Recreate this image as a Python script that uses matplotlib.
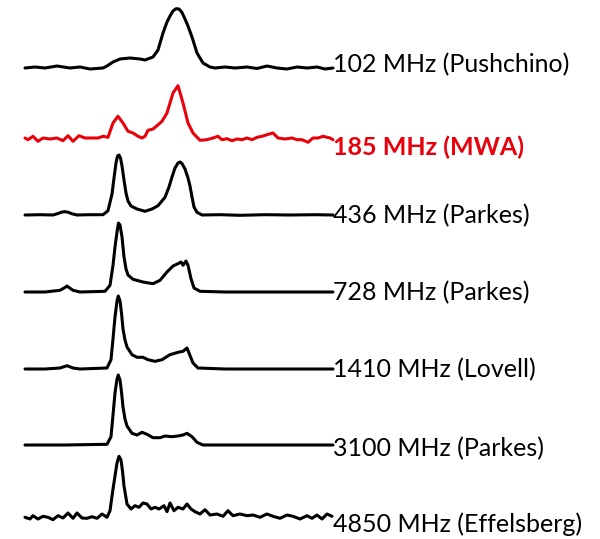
import matplotlib.pyplot as plt

# pulse profiles: phase bin -> height above baseline
freqs = ["102 MHz (Pushchino)", "185 MHz (MWA)", "436 MHz (Parkes)", "728 MHz (Parkes)",
         "1410 MHz (Lovell)", "3100 MHz (Parkes)", "4850 MHz (Effelsberg)"]

ph_102 = [0, 10, 20, 32, 45, 55, 65, 78, 82, 88, 95, 105, 115, 120, 128, 133, 138, 142, 145,
          148, 151, 154, 157, 160, 163, 167, 172, 178, 185, 190, 200, 210, 222, 232, 242, 252,
          262, 272, 282, 292, 300, 308]
amp_102 = [0, 1, 0, 2, 0, 1, -1, 0, 2, 6, 9, 10, 9, 8, 11, 18, 35, 46, 52,
           57, 59.3, 59, 55.5, 49, 42, 31, 15, 5, 1, 0, 1, 0, 1, -0.5, 2, 0,
           -1, 1, 0, 1, -1, 0]

ph_185 = [0, 3, 8, 13, 18, 25, 32, 38, 43, 48, 54, 60, 67, 73, 78, 83, 88, 93, 98, 103, 108,
          113, 117, 120, 123, 128, 132, 137, 142, 145, 148, 153, 158, 163, 168, 175, 182, 188,
          193, 197, 202, 207, 212, 217, 222, 227, 232, 237, 242, 248, 253, 260, 267, 272, 277,
          283, 288, 293, 298, 305, 308]
amp_185 = [0, -1.7, 1.7, -3.3, 0, -1, 0, -2.7, 2.3, -3.3, 2.3, 0, 0, 0, 1.7, 0.7, 15, 21.7, 15,
           6.7, 5, 1.7, 0, 1.7, 7.7, 9, 12.3, 16.7, 25, 35, 45, 52.3, 35, 15, 5, -2.3, -1.7, 0,
           1.7, -1.7, -0.7, -2.7, -1, -1.7, 0, -1.7, 0.7, 1.7, 3.3, 5, 0, -1, 0, -1.7, -1.7,
           -4.3, 0, 0, 1.7, 0, -1.7]

ph_436 = [0, 15, 28, 33, 37, 40, 43, 47, 52, 65, 78, 83, 87, 89, 91, 92.5, 94, 95.5, 97, 99,
          101, 103, 106, 112, 120, 127, 133, 140, 144, 147, 150, 153, 155, 157, 160, 163, 165,
          167, 169, 172, 177, 195, 215, 240, 265, 290, 308]
amp_436 = [0, 0.3, 0, 1.5, 3, 3.3, 2.8, 1.2, 0, 0.3, 0.3, 4.3, 21, 37, 52, 59, 60, 57, 49, 35,
           22, 14, 9, 6, 3.7, 6, 9.3, 17.7, 28, 38, 47, 52, 53, 51.5, 46, 37, 29,
           18, 8, 2.7, 0, 0.3, -0.3, 0.3, 0, 0.3, 0]

ph_728 = [0, 20, 35, 40, 42, 44, 48, 55, 80, 85, 88, 90, 92, 93.5, 95, 97, 99, 101, 103, 108,
          118, 128, 135, 142, 148, 153, 156, 158, 161, 163, 166, 169, 175, 200, 250, 308]
amp_728 = [0, 0, 1.7, 4.5, 6, 4.5, 1.7, 0, 0.7, 6.7, 26.7, 45, 60, 69, 67, 55, 35, 23, 17,
           12.7, 10, 8.3, 11.7, 20, 26, 28.3, 30, 26.7, 31, 26.7, 13.3, 4, 0.7, 0, 0, 0]

ph_1410 = [0, 20, 35, 42, 48, 55, 82, 86, 88, 90, 92, 93.3, 95, 96.5, 98, 100, 102, 107, 112,
           118, 123, 130, 137, 145, 153, 158, 162, 164, 168, 173, 200, 250, 308]
amp_1410 = [0, 0, 1, 3.3, 1, 0, 1, 9.3, 30, 52, 68, 73, 68, 56, 40, 29, 22, 14.3, 11.7,
            11.7, 9.3, 7.7, 9.3, 14.3, 16.7, 17.7, 21, 16, 6, 1, 0, 0, 0]

ph_3100 = [0, 40, 82, 86, 88, 90, 92, 93.3, 95, 96.5, 98, 100, 102, 107, 112, 117, 122, 128,
           135, 140, 147, 153, 158, 162, 167, 172, 178, 230, 308]
amp_3100 = [0, 0, 0.7, 8.3, 30, 52, 66, 70, 65, 53, 38, 26, 19, 11.7, 10, 12.7, 10.7, 7.3,
            7.3, 9, 8.3, 9, 10, 11.7, 8.3, 2.7, 0, 0, 0]

ph_4850 = [0, 5, 8, 13, 18, 23, 28, 33, 38, 43, 48, 52, 57, 62, 67, 72, 77, 82, 85, 88, 90,
           92, 94, 96, 97.5, 99, 102, 106, 110, 114, 118, 122, 126, 130, 134, 139, 142, 145,
           149, 153, 158, 162, 166, 170, 175, 180, 185, 192, 198, 203, 208, 215, 222, 228,
           235, 242, 248, 255, 262, 268, 275, 282, 287, 292, 297, 302, 307]
amp_4850 = [0.7, -1, 2.3, -1, 1.7, 0.7, -1.7, 2.3, 0, 5, -0.3, 5, 0, -0.3, 1.3, -0.3, 4, 0.7,
            7.3, 29, 42, 55, 61.7, 58, 47, 32, 14, 9, 12.3, 10.7, 15, 14, 9, 10.7, 9, 12.3,
            6.3, 15, 7.3, 10.7, 9, 14, 9, 6.3, 4, 8.3, 3, 4, 1.7, 7.3, 2.3, 4, 2.3, 3, 0.7,
            4, 1.7, -0.3, 3, 1.7, -1, 2.3, -0.3, 3, -1, 4, 1.7]

phases = [ph_102, ph_185, ph_436, ph_728, ph_1410, ph_3100, ph_4850]
profiles = [amp_102, amp_185, amp_436, amp_728, amp_1410, amp_3100, amp_4850]

# layout (figure pixels)
baselines = [68, 138, 215, 292, 369, 445, 518]
label_y = [65, 147, 216, 293, 370, 449, 524]
colors = ["black", "#e8000b", "black", "black", "black", "black", "black"]
x0 = 25

fig = plt.figure(figsize=(6, 5.39), dpi=100)
ax = fig.add_axes([0, 0, 1, 1])
ax.set_xlim(0, 600)
ax.set_ylim(539, 0)
ax.axis("off")

for i in range(len(freqs)):
    xs = [x0 + p for p in phases[i]]
    ys = [baselines[i] - a for a in profiles[i]]
    ax.plot(xs, ys, color=colors[i], lw=2.2, solid_joinstyle="round", solid_capstyle="round")
    ax.text(x0 + 308, label_y[i], freqs[i], color=colors[i], fontsize=18,
            fontfamily="Lato", fontweight="bold" if i == 1 else "normal",
            va="center", ha="left")

fig.savefig("out.png", dpi=100)
